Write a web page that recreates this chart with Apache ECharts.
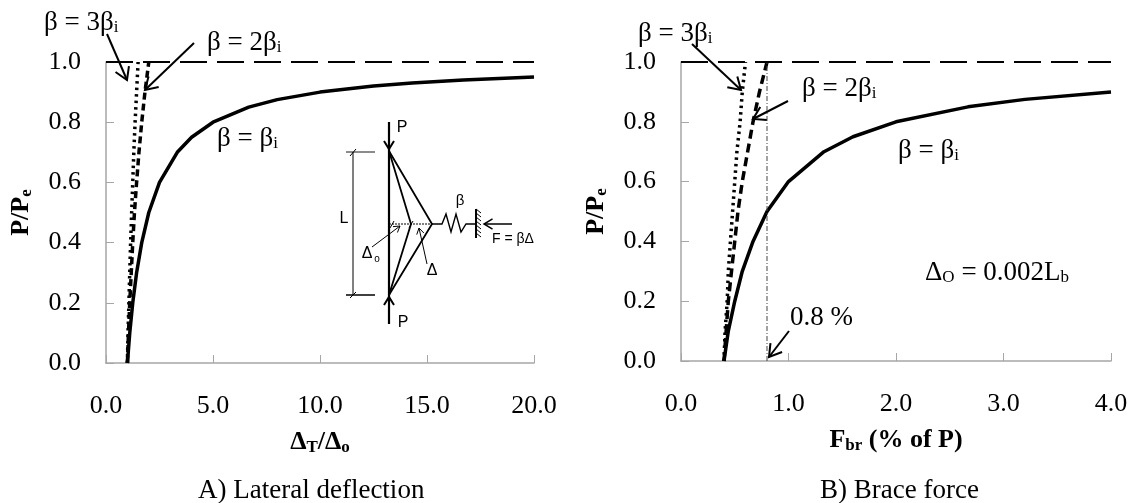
<!DOCTYPE html>
<html><head><meta charset="utf-8">
<script src="https://cdn.jsdelivr.net/npm/echarts@6/dist/echarts.min.js"></script>
<style>html,body{margin:0;padding:0;background:#fff}#c{width:1132px;height:503px}</style>
</head><body><div id="c"></div>
<script>
const loadRatio = [0,0.1,0.2,0.3,0.4,0.5,0.6,0.7,0.75,0.8,0.85,0.875,0.9,0.92,0.93,0.94,0.95];
const defl1 = [1,1.11,1.25,1.43,1.67,2,2.5,3.33,4,5,6.67,8,10,12.5,14.3,16.7,20];
const loadRatioB = [0,0.1,0.2,0.3,0.4,0.5,0.6,0.7,0.8,0.9,1.0];
const defl2 = [1,1.05,1.11,1.18,1.25,1.33,1.43,1.54,1.67,1.82,2];
const defl3 = [1,1.03,1.07,1.11,1.15,1.2,1.25,1.3,1.36,1.43,1.5];
const force1Load = [0,0.1,0.2,0.3,0.4,0.5,0.6,0.7,0.75,0.8,0.85,0.875,0.9];
const force1 = [0.4,0.44,0.5,0.57,0.67,0.8,1,1.33,1.6,2,2.67,3.2,4];
const force2 = [0.4,0.42,0.44,0.47,0.5,0.53,0.57,0.62,0.67,0.73,0.8];
const force3 = [0.4,0.41,0.43,0.44,0.46,0.48,0.5,0.52,0.55,0.57,0.6];
const xTicksA = [0,20]; const xTicksB = [0,4];
const F = '"Liberation Serif"';
const TS = 26, AS = 27;
const pair = (xs, ys) => xs.map((x, i) => [x, ys[i]]);
const rich = {
  b:{fontFamily:F,fontSize:AS,color:'#000'},
  s:{fontFamily:F,fontSize:17,color:'#000',verticalAlign:'bottom',padding:[10,0,0,0]},
  B:{fontFamily:F,fontSize:26,fontWeight:'bold',color:'#000'},
  S:{fontFamily:F,fontSize:17,fontWeight:'bold',color:'#000',verticalAlign:'bottom',padding:[10,0,0,0]}
};
const axisBase = {
  min:0, type:'value', splitLine:{show:false},
  axisLine:{show:true,onZero:false,lineStyle:{color:'#a6a6a6',width:1.5}},
  axisTick:{show:true,inside:true,length:8,lineStyle:{color:'#a6a6a6',width:1}},
  axisLabel:{fontFamily:F,fontSize:TS,color:'#000',formatter:v=>v.toFixed(1)}
};
function curve(xi,data,w,type,color){
  return {type:'line',xAxisIndex:xi,yAxisIndex:xi,data,symbol:'none',smooth:false,silent:true,
    lineStyle:{color:color||'#000',width:w,type}};
}
function txt(x,y,parts,fs){
  return {type:'text',x,y,style:{text:parts,rich,fontFamily:F,fontSize:fs||AS,fill:'#000',align:'left',verticalAlign:'middle'}};
}
function seg(x1,y1,x2,y2,w,extra){
  return {type:'line',shape:{x1,y1,x2,y2},style:Object.assign({stroke:'#000',lineWidth:w||1.5},extra||{})};
}
function poly(points,w){
  return {type:'polyline',shape:{points},style:{stroke:'#000',fill:null,lineWidth:w||1.5}};
}
function arrow(x1,y1,x2,y2,w,h){
  const a=Math.atan2(y2-y1,x2-x1), L=h||14, t=0.55;
  return [seg(x1,y1,x2,y2,w||2),
    poly([[x2-L*Math.cos(a-t),y2-L*Math.sin(a-t)],[x2,y2],[x2-L*Math.cos(a+t),y2-L*Math.sin(a+t)]],w||2)];
}
const g = [];
// panel A annotations
g.push(txt(44,23,'{b|β = 3β}{s|i}'));
g.push(txt(207,43,'{b|β = 2β}{s|i}'));
g.push(txt(217,139,'{b|β = β}{s|i}'));
g.push(...arrow(107,34,127,80));
g.push(...arrow(194,43,145,90));
g.push(txt(198,491,'A) Lateral deflection'));
// panel B annotations
g.push(txt(638,34,'{b|β = 3β}{s|i}'));
g.push(txt(802,89,'{b|β = 2β}{s|i}'));
g.push(txt(898,151,'{b|β = β}{s|i}'));
g.push(txt(925,273,'{b|Δ}{s|O}{b| = 0.002L}{s|b}'));
g.push(txt(790,318,'0.8 %'));
g.push(...arrow(692,44,741,90));
g.push(...arrow(788,101,753,119));
g.push(...arrow(789,331,769,357));
g.push(txt(820,491,'B) Brace force'));
// inset
function itxt(x,y,t,fs){return {type:'text',x,y,style:{text:t,fontFamily:'"Liberation Sans"',fontSize:fs||14,fill:'#000',align:'center',verticalAlign:'middle'}};}
g.push(seg(389,122,389,324,2.2));
g.push(poly([[389,151],[432,224],[389,295]],1.8));
g.push(poly([[389,151],[411,224],[389,295]],1.8));
g.push(seg(389,224,432,224,1,{lineDash:[2,1]}));
g.push(poly([[384,141],[389,149],[394,141]],2));
g.push(poly([[384,305],[389,297],[394,305]],2));
g.push(seg(346,152,375,152,1.5,{stroke:'#666'}));
g.push(seg(346,295,375,295,1.5));
g.push(seg(353,152,353,295,1));
g.push(seg(350,156,356,149,1)); g.push(seg(350,298,356,292,1));
g.push(seg(390,228,394,221,1)); g.push(seg(409,228,413,221,1));
g.push(itxt(344,219,'L',16));
g.push(itxt(402,128,'P',16)); g.push(itxt(403,323,'P',16));
g.push(poly([[432,224],[442,224],[446,214],[451,232],[456,214],[461,232],[466,224],[476,224]],1.4));
g.push(seg(476,209,476,238,2));
for(let k=0;k<7;k++) g.push(seg(476,209+k*4,481,213+k*4,1));
g.push(...arrow(512,224,484,224,1.5,10));
g.push(itxt(460,201,'β',15)); g.push(itxt(513,239,'F = βΔ',14));
g.push(...arrow(372,247,400,226,1,7));
g.push(...arrow(427,264,419,228,1,7));
g.push(itxt(367,254,'Δ',16)); g.push(itxt(377,259,'o',10));
g.push(itxt(432,271,'Δ',16));

const option = {
  animation:false, backgroundColor:'#fff',
  grid:[
    {left:106,top:62,width:428,height:301,outerBoundsMode:'none'},
    {left:681,top:62,width:430,height:299,outerBoundsMode:'none'}
  ],
  xAxis:[
    Object.assign({},axisBase,{gridIndex:0,max:xTicksA[1],interval:5,
      axisLabel:Object.assign({},axisBase.axisLabel,{margin:30}),
      name:'{B|Δ}{S|T}{B|/Δ}{S|o}',nameLocation:'middle',nameGap:66,nameTextStyle:{rich}}),
    Object.assign({},axisBase,{gridIndex:1,max:xTicksB[1],interval:1,
      axisLabel:Object.assign({},axisBase.axisLabel,{margin:30}),
      name:'{B|F}{S|br}{B| (% of P)}',nameLocation:'middle',nameGap:66,nameTextStyle:{rich}})
  ],
  yAxis:[0,1].map(i=>Object.assign({},axisBase,{gridIndex:i,max:1,interval:0.2,
      axisLabel:Object.assign({},axisBase.axisLabel,{margin:25}),
      name:'{B|P/P}{S|e}',nameLocation:'middle',nameGap:71,nameRotate:90,nameTextStyle:{rich}})),
  series:[
    curve(0,pair(defl1,loadRatio),3.5,'solid'),
    curve(0,pair(defl2,loadRatioB),3.5,[7,4]),
    curve(0,pair(defl3,loadRatioB),3.5,[2.5,4]),
    curve(0,[[0,1],[20,1]],2.2,[27,10]),
    curve(1,pair(force1,force1Load),3.5,'solid'),
    curve(1,pair(force2,loadRatioB),3.5,[9,5]),
    curve(1,pair(force3,loadRatioB),3.5,[2.5,4]),
    curve(1,[[0,1],[4,1]],2.2,[27,10]),
    curve(1,[[0.8,0],[0.8,1]],1,[5,2,1,2],'#444')
  ],
  graphic:{elements:g}
};
echarts.init(document.getElementById('c'),null,{renderer:'canvas'}).setOption(option);
</script></body></html>
